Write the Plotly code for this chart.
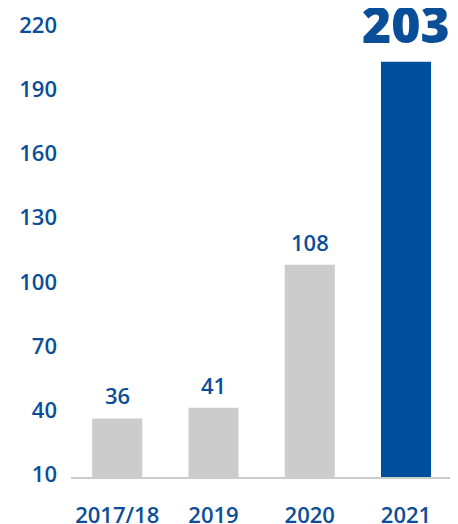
import plotly.graph_objects as go

categories = ["2017/18", "2019", "2020", "2021"]
values = [36, 41, 108, 203]
bar_colors = ["#cccccc", "#cccccc", "#cccccc", "#004f9c"]
y_ticks = [10, 40, 70, 100, 130, 160, 190, 220]

text_color = "#0b4e98"
font_family = "Open Sans"

fig = go.Figure()
fig.add_trace(go.Bar(
    x=categories, y=values, marker=dict(color=bar_colors, line=dict(width=0)),
    width=0.52, hoverinfo="skip",
))

for i, v in enumerate(values):
    big = i == len(values) - 1
    fig.add_annotation(
        x=i, y=v, text=str(v), showarrow=False, yanchor="bottom",
        yshift=2 if big else 6,
        font=dict(family=font_family, size=50 if big else 22,
                  color=text_color, weight=800 if big else 600),
    )

fig.update_layout(
    width=450, height=516,
    margin=dict(l=63, r=0, t=0, b=47, autoexpand=False),
    paper_bgcolor="white", plot_bgcolor="white",
    showlegend=False,
    xaxis=dict(
        type="category", automargin=False,
        range=[-0.48, 3.54], showline=True, linecolor="#cccccc", linewidth=2,
        showgrid=False, zeroline=False, ticks="",
        tickfont=dict(family=font_family, size=22, color=text_color, weight=600),
        ticklabelstandoff=18,
    ),
    yaxis=dict(
        automargin=False,
        range=[8.6, 228.2], tickvals=y_ticks, showgrid=False, zeroline=False,
        showline=False, ticks="",
        tickfont=dict(family=font_family, size=22, color=text_color, weight=600),
        ticklabelstandoff=13,
    ),
)

fig.write_html("out.html")
